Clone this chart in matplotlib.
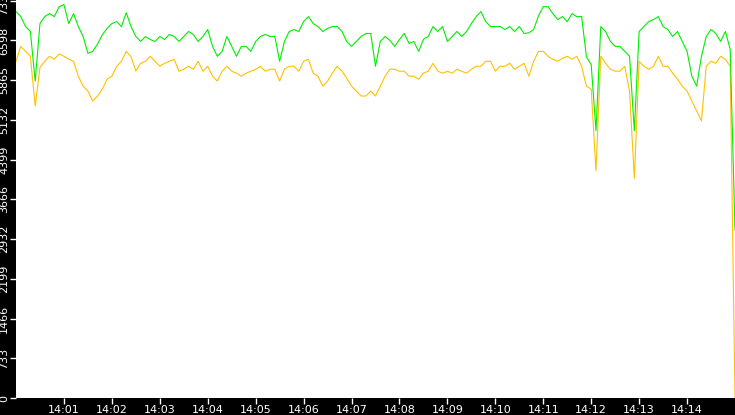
import numpy as np
import matplotlib
matplotlib.use("Agg")
import matplotlib.pyplot as plt

# sample times: seconds after 14:00:00, every 6 s
t_sec = np.arange(0, 901, 6)

green = [7130,7039,6855,6764,5848,6910,7039,7094,7039,7222,7260,6910,7094,6855,6672,6360,6397,6530,6700,6820,
         6910,6947,6855,7110,6855,6672,6580,6670,6617,6580,6672,6617,6709,6672,6580,6672,6764,6709,6580,6672,
         6800,6489,6306,6397,6672,6489,6306,6489,6489,6397,6580,6672,6709,6672,6672,6214,6580,6764,6800,6764,
         6947,7039,6910,6855,6764,6819,6855,6855,6764,6580,6489,6580,6672,6727,6727,6122,6580,6672,6600,6489,
         6617,6727,6544,6580,6397,6617,6672,6855,6764,6855,6580,6672,6764,6672,6764,6910,7039,7130,6947,6855,
         6855,6855,6800,6855,6764,6855,6727,6740,6800,7050,7222,7222,7094,6984,7039,6947,7094,7039,7039,6300,
         6150,4931,6855,6764,6580,6489,6489,6397,6306,4931,6764,6855,6947,6984,7039,6855,6800,6672,6764,6580,
         6397,5939,5756,6306,6672,6800,6727,6580,6764,6434,3098]

yellow = [6214,6489,6397,6306,5389,6100,6214,6306,6251,6350,6306,6251,6214,5939,5756,5664,5480,5573,5700,5884,
          5939,6122,6214,6397,6300,6031,6177,6214,6306,6214,6122,6177,6214,6251,6031,6067,6122,6067,6214,6031,
          6122,5939,5848,6031,6122,6031,5994,5939,5994,6031,6067,6122,6031,6067,6067,5848,6067,6122,6122,6031,
          6214,6251,5994,5939,5756,5848,5994,6122,6031,5900,5756,5664,5573,5573,5664,5573,5756,5939,6067,6067,
          6031,6031,5939,5939,5884,5994,6031,6177,6031,5994,6031,5994,6067,6031,5994,6067,6122,6122,6214,6214,
          6031,6122,6122,6177,6067,6122,6177,5939,6214,6397,6397,6306,6251,6214,6269,6306,6251,6306,6122,5756,
          5701,4197,6306,6177,6067,6031,6031,6122,5664,4050,6214,6122,6067,6122,6306,6122,6122,5994,5884,5756,
          5664,5481,5298,5114,6122,6214,6177,6306,6251,6122,0]

y_ticks = [0, 733, 1466, 2199, 2932, 3666, 4399, 5132, 5865, 6598, 7332]
x_tick_sec = [60*m for m in range(1, 15)]
x_tick_labels = ["14:%02d" % m for m in range(1, 15)]

fig = plt.figure(figsize=(7.35, 4.15), dpi=100, facecolor="black")
ax = fig.add_axes([16/735, 17/415, 719/735, 398/415])
ax.set_facecolor("white")
ax.plot(t_sec, yellow, color="#ffc000", lw=0.8)
ax.plot(t_sec, green, color="#00ee00", lw=0.8)
ax.set_xlim(0, 900)
ax.set_ylim(0, 7345)
ax.set_yticks(y_ticks)
ax.set_yticklabels([str(v) for v in y_ticks], rotation=90, va="center")
ax.set_xticks(x_tick_sec)
ax.set_xticklabels(x_tick_labels)
ax.tick_params(colors="white", labelcolor="white", labelsize=8, length=4, width=1, pad=1)
for s in ax.spines.values():
    s.set_visible(False)
fig.savefig("out.png", dpi=100, facecolor="black")
